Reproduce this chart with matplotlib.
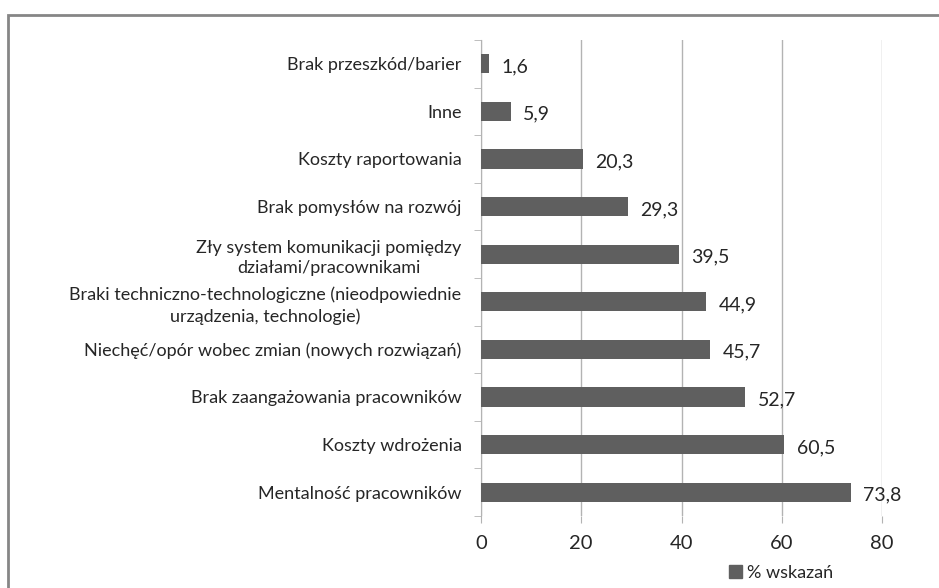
import matplotlib
matplotlib.use("Agg")
import matplotlib.pyplot as plt
from matplotlib.patches import Rectangle, Patch

categories = [
    "Mentalność pracowników",
    "Koszty wdrożenia",
    "Brak zaangażowania pracowników",
    "Niechęć/opór wobec zmian (nowych rozwiązań)",
    "Braki techniczno-technologiczne (nieodpowiednie\nurządzenia, technologie)",
    "Zły system komunikacji pomiędzy\ndziałami/pracownikami",
    "Brak pomysłów na rozwój",
    "Koszty raportowania",
    "Inne",
    "Brak przeszkód/barier",
]
values = [73.8, 60.5, 52.7, 45.7, 44.9, 39.5, 29.3, 20.3, 5.9, 1.6]
series_name = "% wskazań"
xticks = [0, 20, 40, 60, 80]

plt.rcParams["font.family"] = ["Lato", "DejaVu Sans"]
bar_color = "#5f5f5f"
grid_color = "#b3b3b3"
text_color = "#262626"

fig = plt.figure(figsize=(9.39, 5.88), dpi=100)
ax = fig.add_axes([481 / 939, 1 - 516 / 588, (882 - 481) / 939, (516 - 40) / 588])

pos = list(range(len(categories)))
ax.barh(pos, values, height=0.4, color=bar_color, zorder=3)
ax.set_ylim(-0.5, len(categories) - 0.5)
ax.set_xlim(0, 80)

for y, v in zip(pos, values):
    ax.annotate(f"{v:.1f}".replace(".", ","), xy=(v, y), xytext=(9, -2),
                textcoords="offset points", va="center", ha="left",
                fontsize=14, color=text_color)

ax.set_yticks(pos)
ax.set_yticklabels(categories, fontsize=13, color=text_color,
                   ha="right", multialignment="center", linespacing=1.35)
ax.tick_params(axis="y", which="major", length=0, pad=14)
ax.set_yticks([p + 0.5 for p in [-1] + pos], minor=True)
ax.tick_params(axis="y", which="minor", length=5, color=grid_color)

ax.set_xticks(xticks)
ax.set_xticklabels([str(t) for t in xticks], fontsize=14.5, color=text_color)
ax.tick_params(axis="x", length=5, color=grid_color, pad=9)
ax.grid(axis="x", color=grid_color, linewidth=1, zorder=0)

for s in ["top", "right", "bottom"]:
    ax.spines[s].set_visible(False)
ax.spines["left"].set_color(grid_color)

fig.legend(handles=[Patch(color=bar_color, label=series_name)],
           loc="center", bbox_to_anchor=(781 / 939, 1 - 573 / 588),
           frameon=False, fontsize=13, handlelength=0.7, handleheight=0.7,
           handletextpad=0.3, labelcolor=text_color)

fig.patches.append(Rectangle((8 / 939, -0.1), 1.2, 1 - 15 / 588 + 0.1,
                             transform=fig.transFigure, fill=False,
                             edgecolor="#868686", linewidth=2))

fig.savefig("out.png", dpi=100)
